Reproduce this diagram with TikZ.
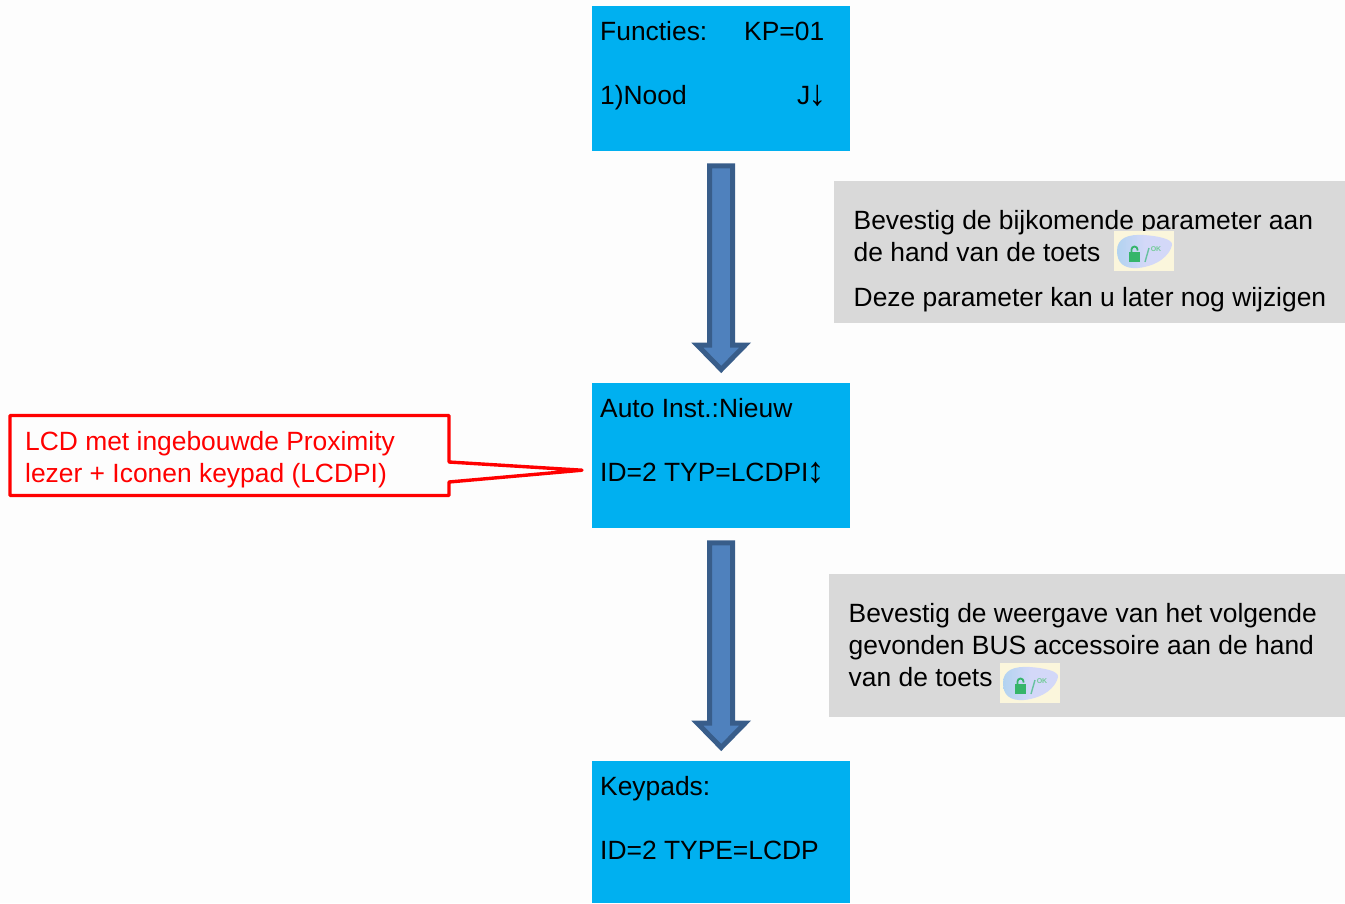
\documentclass[tikz,border=0pt]{standalone}
\usepackage{fontspec}
\setmainfont{Liberation Sans}
\usetikzlibrary{calc}
\definecolor{lcdblue}{HTML}{00B0F0}
\definecolor{panelgrey}{HTML}{D9D9D9}
\definecolor{arrowfill}{HTML}{4F81BD}
\definecolor{arrowline}{HTML}{385D8A}
\definecolor{pagebg}{HTML}{FDFDFD}
\definecolor{lockgreen}{HTML}{35B56A}
\definecolor{iconcream}{HTML}{FBF6DC}
\definecolor{iconblue}{HTML}{D3D8F8}
\definecolor{iconedge}{HTML}{B2D3F0}
\newcommand{\bigglyph}[1]{\kern-2pt\raisebox{-1.5pt}{\fontsize{36}{36}\selectfont #1}}
\tikzset{
  lcdbox/.style={fill=lcdblue,draw=none,minimum width=258,anchor=north west,inner sep=0},
  panel/.style={fill=panelgrey,draw=none,anchor=north west,inner sep=0},
  lbl/.style={anchor=base west,inner sep=0,font=\fontsize{26.4}{30}\selectfont},
  redlbl/.style={lbl,text=red},
  blockarrow/.style={fill=arrowfill,draw=arrowline,line width=5,miter limit=10},
  callout/.style={draw=red,line width=3.4,line join=round,fill=pagebg},
  pics/okicon/.style={code={
    \fill[iconcream] (0,0) rectangle (60,40);
    \shade[left color=iconedge,right color=iconblue,middle color=iconblue]
      (3,20) .. controls (3,7) and (14,3) .. (30,4)
      .. controls (44,5) and (59,8) .. (58,14)
      .. controls (56,24) and (44,35) .. (24,37)
      .. controls (10,38) and (3,32) .. (3,20) -- cycle;
    \fill[lockgreen] (15,21) rectangle (26,31);
    \draw[lockgreen,line width=1.8] (17.5,21) -- (17.5,18.5) arc[start angle=180,end angle=360,radius=3] -- (23.5,19.5);
    \draw[lockgreen!60!iconedge,line width=1.4] (31,31) -- (35,17);
    \node[inner sep=0,text=lockgreen!70!white,font=\fontsize{7}{7}\bfseries\selectfont] at (42,18.5) {OK};
  }}
}
\newcommand{\blockdown}[2]{%
  \draw[blockarrow]
    ($(#1.south)+(-11.5,14.5)$) -- ($(#1.south)+(11.5,14.5)$)
    -- ($(#2.north)+(11.5,-38)$) -- ($(#2.north)+(24,-38)$)
    -- ($(#2.north)+(0,-13.5)$)
    -- ($(#2.north)+(-24,-38)$) -- ($(#2.north)+(-11.5,-38)$) -- cycle;
}
\begin{document}
\begin{tikzpicture}[x=1pt,y=-1pt]
\useasboundingbox (0,0) rectangle (1345,903);
\fill[pagebg] (0,0) rectangle (1345,903);

\node[lcdbox,minimum height=145] (lcda) at (592,6) {};
\node[lcdbox,minimum height=145] (lcdb) at (592,383) {};
\node[lcdbox,minimum height=142] (lcdc) at (592,761) {};

\blockdown{lcda}{lcdb}
\blockdown{lcdb}{lcdc}

\node[lbl] (a1) at (600,40) {Functies:};
\node[lbl] (a2) at (744,40) {KP=01};
\node[lbl] (a3) at (600,104) {1)Nood};
\node[lbl] (a4) at (797,104) {J\bigglyph{↓}};

\node[lbl] (b1) at (600,417) {Auto Inst.:Nieuw};
\node[lbl] (b2) at (600,481) {ID=2 TYP=LCDPI\bigglyph{↕}};

\node[lbl] (c1) at (600,795) {Keypads:};
\node[lbl] (c2) at (600,859) {ID=2 TYPE=LCDP};

\node[panel,minimum width=511,minimum height=142.5] (pa) at (834,180.5) {};
\node[lbl] (pa1) at (853.5,229) {Bevestig de bijkomende parameter aan};
\node[lbl] (pa2) at (853.5,261) {de hand van de toets};
\node[lbl] (pa3) at (853.5,306) {Deze parameter kan u later nog wijzigen};
\pic at (1114,231) {okicon};

\node[panel,minimum width=516,minimum height=143] (pb) at (829,574) {};
\node[lbl] (pb1) at (848.5,622) {Bevestig de weergave van het volgende};
\node[lbl] (pb2) at (848.5,654) {gevonden BUS accessoire aan de hand};
\node[lbl] (pb3) at (848.5,686) {van de toets};
\pic at (1000,663) {okicon};

\coordinate (tip) at ($(lcdb.west)+(-10,14.5)$);
\draw[callout] (10,415.5) -- (449,415.5) -- (449,462) -- (tip) -- (449,482) -- (449,495.5) -- (10,495.5) -- cycle;
\node[redlbl] (r1) at (25,450) {LCD met ingebouwde Proximity};
\node[redlbl] (r2) at (25,482) {lezer + Iconen keypad (LCDPI)};
\end{tikzpicture}
\end{document}
